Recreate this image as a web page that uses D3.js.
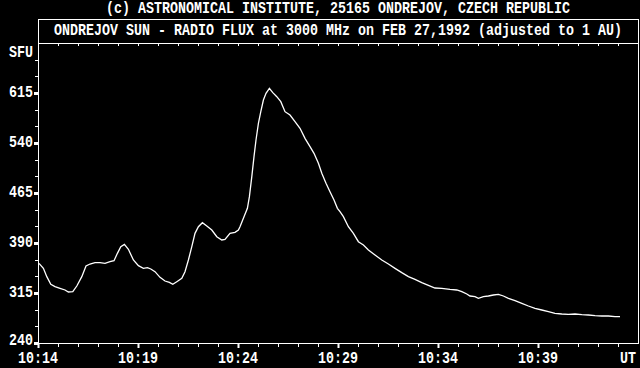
<!DOCTYPE html>
<html>
<head>
<meta charset="utf-8">
<script src="https://cdn.jsdelivr.net/npm/d3@7"></script>
<style>
  body { margin: 0; background: #000; }
  text { font-family: "Liberation Mono", "DejaVu Sans Mono", monospace; font-size: 13.33px; font-weight: bold; fill: #fff; }
</style>
</head>
<body>
<div id="chart"></div>
<script>
// time in minutes after 10:00 UT, flux in SFU
const minutes = [14.05, 14.27, 14.44, 14.64, 14.85, 15.10, 15.35, 15.52, 15.74, 15.94,
  16.19, 16.40, 16.60, 16.85, 17.10, 17.35, 17.60, 17.80, 17.97, 18.14,
  18.32, 18.52, 18.77, 19.02, 19.27, 19.47, 19.64, 19.85, 20.10, 20.35,
  20.57, 20.74, 20.94, 21.19, 21.35, 21.52, 21.69, 21.85, 22.02, 22.22,
  22.44, 22.69, 22.94, 23.19, 23.35, 23.60, 23.85, 24.02, 24.10, 24.30,
  24.47, 24.57, 24.69, 24.80, 24.90, 25.02, 25.14, 25.27, 25.40, 25.57,
  25.74, 25.94, 26.14, 26.35, 26.60, 26.85, 27.10, 27.35, 27.60, 27.80,
  28.02, 28.19, 28.40, 28.60, 28.80, 28.97, 29.10, 29.27, 29.52, 29.77,
  30.02, 30.27, 30.52, 30.85, 31.19, 31.52, 31.85, 32.19, 32.52, 32.85,
  33.19, 33.52, 33.85, 34.19, 34.60, 34.94, 35.19, 35.44, 35.60, 35.85,
  36.02, 36.27, 36.52, 36.77, 37.02, 37.27, 37.52, 37.85, 38.19, 38.52,
  38.85, 39.19, 39.52, 39.85, 40.19, 40.52, 40.85, 41.19, 41.52, 41.85,
  42.19, 42.52, 42.85, 43.10];
const sfu = [359.5, 352, 339.5, 328, 324.5, 322, 319.5, 316.5, 317, 325.5,
  339.5, 355.5, 358.5, 360.5, 360.5, 359.5, 362, 363.5, 374.5, 384.5,
  388, 380.5, 364.5, 356, 352, 353, 351, 347, 338.5, 333,
  331, 328, 332, 337, 347, 364.5, 384.5, 404.5, 414.5, 420.5,
  415.5, 409.5, 399.5, 394.5, 395.5, 404.5, 406, 409.5, 414.5, 429.5,
  442, 459.5, 489.5, 519.5, 544.5, 569.5, 587, 604.5, 614.5, 622,
  615.5, 609.5, 602, 587, 582, 572, 562, 547, 534.5, 524.5,
  509.5, 494.5, 479.5, 467, 454.5, 442, 437, 429.5, 414.5, 404.5,
  392, 387, 379.5, 372, 364.5, 358.5, 352, 345.5, 339.5, 335.5,
  330.5, 326.5, 322.5, 322, 320.5, 319.5, 317, 313.5, 310.5, 309.5,
  307, 309.5, 310.5, 312, 313, 310.5, 307, 303.5, 299.5, 295.5,
  292, 289.5, 287, 284.5, 283.5, 283, 283.5, 282.5, 282, 281,
  280.5, 280.5, 279.5, 279.5];

const xTicks = [14, 19, 24, 29, 34, 39];
const xLabels = ["10:14", "10:19", "10:24", "10:29", "10:34", "10:39"];
const yTicks = [240, 315, 390, 465, 540, 615];

const width = 640, height = 368;
const svg = d3.select("#chart").append("svg")
  .attr("width", width).attr("height", height)
  .style("background", "#000");

const x = d3.scaleLinear().domain([14, 44]).range([38, 638]);
const y = d3.scaleLinear().domain([240, 690]).range([343, 43]);

// the screen font is taller than it is wide, so stretch the text vertically
function label(px, py, anchor, str) {
  svg.append("text")
    .attr("transform", `translate(${px},${py}) scale(1,1.2)`)
    .attr("text-anchor", anchor)
    .attr("dominant-baseline", "central")
    .text(str);
}

// titles
label(338, 9, "middle", "(c) ASTRONOMICAL INSTITUTE, 25165 ONDREJOV, CZECH REPUBLIC");
svg.append("rect").attr("x", 38.5).attr("y", 19.5).attr("width", 600).attr("height", 24)
  .attr("fill", "none").attr("stroke", "#fff");
label(338, 31, "middle", "ONDREJOV SUN - RADIO FLUX at 3000 MHz on FEB 27,1992 (adjusted to 1 AU)");

// plot frame
svg.append("rect").attr("x", 38.5).attr("y", 43.5).attr("width", 600).attr("height", 300)
  .attr("fill", "none").attr("stroke", "#fff");

// minute ticks, top and bottom
const minuteTicks = d3.range(15, 44);
svg.selectAll(".tb").data(minuteTicks).join("line")
  .attr("x1", d => Math.round(x(d)) + 0.5).attr("x2", d => Math.round(x(d)) + 0.5)
  .attr("y1", 344).attr("y2", 347).attr("stroke", "#fff");
svg.selectAll(".tt").data(minuteTicks).join("line")
  .attr("x1", d => Math.round(x(d)) + 0.5).attr("x2", d => Math.round(x(d)) + 0.5)
  .attr("y1", 44).attr("y2", 46).attr("stroke", "#fff");
svg.selectAll(".xmaj").data(xTicks).join("rect")
  .attr("x", d => Math.round(x(d)) - 0.5).attr("y", 344).attr("width", 2).attr("height", 4)
  .attr("fill", "#fff");
xTicks.forEach((d, i) => label(x(d), 359, "middle", xLabels[i]));
label(628, 359, "middle", "UT");

// y ticks
const minorY = d3.range(265, 690, 25).filter(v => (v - 240) % 75 !== 0);
svg.selectAll(".ymin").data(minorY).join("line")
  .attr("x1", 35).attr("x2", 38)
  .attr("y1", d => Math.round(y(d)) + 0.5).attr("y2", d => Math.round(y(d)) + 0.5)
  .attr("stroke", "#fff");
svg.selectAll(".ymaj").data(yTicks).join("rect")
  .attr("x", 34).attr("y", d => Math.round(y(d)) - 1).attr("width", 4).attr("height", 3)
  .attr("fill", "#fff");
// bottom label sits a little higher so it clears the time labels
yTicks.forEach(d => label(33, d === 240 ? y(d) - 2 : y(d), "end", d));
label(33, 53, "end", "SFU");

// flux curve
const line = d3.line()
  .x((d, i) => x(minutes[i]))
  .y(d => y(d));
svg.append("path")
  .datum(sfu)
  .attr("d", line)
  .attr("fill", "none")
  .attr("stroke", "#fff")
  .attr("stroke-width", 1.3);
</script>
</body>
</html>
